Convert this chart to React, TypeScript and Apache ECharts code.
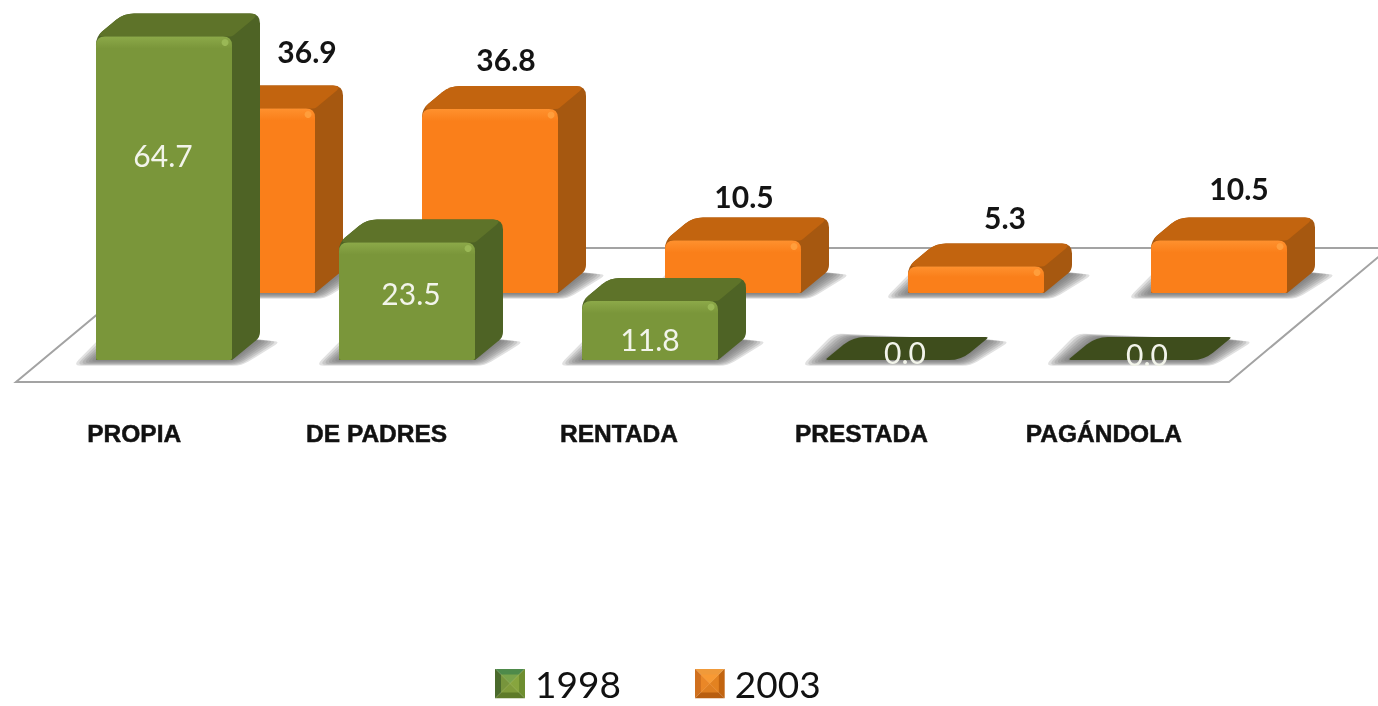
import React, { useEffect, useRef } from "react";
import * as echarts from "echarts";

const categories = ["PROPIA", "DE PADRES", "RENTADA", "PRESTADA", "PAGÁNDOLA"];
const values1998 = [64.7, 23.5, 11.8, 0.0, 0.0];
const values2003 = [36.9, 36.8, 10.5, 5.3, 10.5];

const greenPalette = { front: "#7A963A", light: "#8CA949", top: "#5E7329", side: "#4E6325", flat: "#3E4D1C", hi: "#9AB856" };
const orangePalette = { front: "#FA7F1A", light: "#FF912E", top: "#C2640F", side: "#A65810", flat: "#A65810", hi: "#FF9E3C" };

const DEPTH_X = 28;
const DEPTH_Y = -23;
const LABEL_FONT = "Lato, sans-serif";

// label nudges relative to the bar they annotate
const inNudge = [[-1, -43], [4, -8], [0, 8], [12, -8], [11, -6]];
const outNudge = [[60, -35], [16, -27], [11, -22], [29, -27], [20, -30]];

type P = [number, number];
function roundPoly(pts: P[], radii: number[]): string {
  const n = pts.length;
  let d = "";
  for (let i = 0; i < n; i++) {
    const p = pts[i];
    const a = pts[(i + n - 1) % n];
    const b = pts[(i + 1) % n];
    const r = radii[i];
    const la = Math.hypot(a[0] - p[0], a[1] - p[1]) || 1;
    const lb = Math.hypot(b[0] - p[0], b[1] - p[1]) || 1;
    const ra = Math.min(r, la / 2);
    const rb = Math.min(r, lb / 2);
    const s: P = [p[0] + ((a[0] - p[0]) * ra) / la, p[1] + ((a[1] - p[1]) * ra) / la];
    const e: P = [p[0] + ((b[0] - p[0]) * rb) / lb, p[1] + ((b[1] - p[1]) * rb) / lb];
    d += (i === 0 ? "M" : "L") + s[0].toFixed(1) + " " + s[1].toFixed(1);
    d += "Q" + p[0].toFixed(1) + " " + p[1].toFixed(1) + " " + e[0].toFixed(1) + " " + e[1].toFixed(1);
  }
  return d + "Z";
}

function pathEl(d: string, style: any) {
  return { type: "path", shape: { pathData: d }, style };
}

function makeRender(pal: typeof greenPalette, inside: boolean) {
  return (_params: any, api: any) => {
    const i = api.value(0);
    const v = api.value(1);
    const top = api.coord([i, v]);
    const base = api.coord([i, 0]);
    const w = api.size([1, 0])[0] * 0.56;
    const x = base[0] - w / 2;
    const yb = base[1];
    const yt = top[1];
    const h = yb - yt;
    const children: any[] = [];
    // soft ground shadow: stacked translucent layers that widen outward
    for (let k = 6; k >= 0; k--) {
      const g = k * 3.2;
      const shadow: P[] = [
        [x - 4 - g, yb + 1 + k * 0.8],
        [x + w + g * 0.5, yb + 1 + k * 0.8],
        [x + w + DEPTH_X + 2 + g, yb + DEPTH_Y + 2 + k * 0.4],
        [x + DEPTH_X - g, yb + DEPTH_Y - k * 0.6],
      ];
      children.push(
        pathEl(roundPoly(shadow, [8, 8, 8, 8]), { fill: "rgba(105,105,105,0.2)" })
      );
    }
    const ftl: P = [x, yt];
    const ftr: P = [x + w, yt];
    const btr: P = [x + w + DEPTH_X, yt + DEPTH_Y];
    const btl: P = [x + DEPTH_X, yt + DEPTH_Y];
    if (h < 1) {
      children.push(pathEl(roundPoly([ftl, ftr, btr, btl], [3, 12, 3, 12]), { fill: pal.flat }));
    } else {
      const bandFrac = Math.min(0.4, 12 / h);
      children.push(
        pathEl(
          roundPoly(
            [ftl, btl, btr, [btr[0], yb + DEPTH_Y], [x + w, yb], [x, yb]],
            [8, 10, 10, 5, 1, 1]
          ),
          { fill: pal.side }
        )
      );
      children.push(
        pathEl(roundPoly([ftl, btl, btr, ftr], [8, 10, 10, 2]), { fill: pal.top })
      );
      children.push(
        pathEl(roundPoly([[x, yt], [x + w, yt], [x + w, yb], [x, yb]], [9, 9, 2, 2]), {
          fill: {
            type: "linear",
            x: 0,
            y: 0,
            x2: 0,
            y2: 1,
            colorStops: [
              { offset: 0, color: pal.light },
              { offset: bandFrac, color: pal.front },
              { offset: 1, color: pal.front },
            ],
          },
        })
      );
      children.push({
        type: "circle",
        shape: { cx: x + w - 7, cy: yt + 6, r: 3.5 },
        style: { fill: pal.hi },
      });
    }
    const nudge = (inside ? inNudge : outNudge)[i];
    const lx = base[0] + nudge[0];
    const ly = inside ? (h < 1 ? yb + nudge[1] : yt + h / 2 + nudge[1]) : yt + DEPTH_Y + nudge[1];
    children.push({
      type: "text",
      z2: 10,
      style: {
        text: v.toFixed(1),
        x: lx,
        y: ly,
        align: "center",
        verticalAlign: "middle",
        font: inside ? `400 30px ${LABEL_FONT}` : `bold 30px ${LABEL_FONT}`,
        fill: inside ? "#F2F4EA" : "#141414",
      },
    });
    return { type: "group", children };
  };
}

function legendIcon(top: string, left: string, right: string, bottom: string, mid: string) {
  const svg =
    `<svg xmlns="http://www.w3.org/2000/svg" width="30" height="30">` +
    `<polygon points="0,0 30,0 15,15" fill="${top}"/>` +
    `<polygon points="0,0 0,30 15,15" fill="${left}"/>` +
    `<polygon points="30,0 30,30 15,15" fill="${right}"/>` +
    `<polygon points="0,30 30,30 15,15" fill="${bottom}"/>` +
    `<polygon points="6,6 24,6 24,24 6,24" fill="${mid}" fill-opacity="0.55"/>` +
    `</svg>`;
  return "image://data:image/svg+xml," + encodeURIComponent(svg);
}

const floor: number[][] = [
  [16, 382],
  [1229, 382],
  [1389, 248],
  [177, 248],
];

export default function App() {
  const ref = useRef<HTMLDivElement>(null);
  useEffect(() => {
    const chart = echarts.init(ref.current!, undefined, { renderer: "svg" });
    const hiddenAxis = { show: false };
    chart.setOption({
      animation: false,
      backgroundColor: "#ffffff",
      graphic: [
        {
          type: "polygon",
          z: -10,
          shape: { points: floor },
          style: { fill: "#ffffff", stroke: "#a3a3a3", lineWidth: 2 },
        },
      ],
      legend: {
        left: 490,
        top: 660,
        itemWidth: 30,
        itemHeight: 30,
        itemGap: 74,
        textStyle: {
          fontFamily: LABEL_FONT,
          fontSize: 37,
          lineHeight: 30,
          color: "#111111",
          padding: [0, 0, 0, 5],
        },
        data: [
          { name: "1998", icon: legendIcon("#4E8A4A", "#4A6A2C", "#6E8E30", "#5E7A28", "#9DB84A") },
          { name: "2003", icon: legendIcon("#F09A3A", "#D0701E", "#C2640F", "#B85E10", "#FF9A30") },
        ],
      },
      grid: [
        { left: 42.5, top: 10, width: 1215, height: 350 },
        { left: 125.5, top: 43, width: 1215, height: 250 },
        { left: 13, top: 300, width: 1212, height: 110 },
      ],
      xAxis: [
        { type: "category", gridIndex: 0, data: categories, ...hiddenAxis },
        { type: "category", gridIndex: 1, data: categories, ...hiddenAxis },
        {
          type: "category",
          gridIndex: 2,
          data: categories,
          axisLine: { show: false },
          axisTick: { show: false },
          axisLabel: {
            interval: 0,
            margin: 11,
            color: "#111111",
            fontFamily: "'Liberation Sans Narrow', 'Liberation Sans', sans-serif",
            fontWeight: "bold",
            fontSize: 24.5,
            textBorderColor: "#111111",
            textBorderWidth: 0.5,
          },
        },
      ],
      yAxis: [
        { type: "value", gridIndex: 0, min: 0, max: 70, ...hiddenAxis },
        { type: "value", gridIndex: 1, min: 0, max: 50, ...hiddenAxis },
        { type: "value", gridIndex: 2, min: 0, max: 1, ...hiddenAxis },
      ],
      series: [
        {
          name: "2003",
          type: "custom",
          xAxisIndex: 1,
          yAxisIndex: 1,
          z: 2,
          clip: false,
          itemStyle: { color: orangePalette.front },
          encode: { x: 0, y: 1 },
          data: values2003.map((v, i) => [i, v]),
          renderItem: makeRender(orangePalette, false),
        },
        {
          name: "1998",
          type: "custom",
          xAxisIndex: 0,
          yAxisIndex: 0,
          z: 3,
          clip: false,
          itemStyle: { color: greenPalette.front },
          encode: { x: 0, y: 1 },
          data: values1998.map((v, i) => [i, v]),
          renderItem: makeRender(greenPalette, true),
        },
      ],
    });
    return () => chart.dispose();
  }, []);
  return (
    <div
      ref={ref}
      style={{ position: "absolute", left: 0, top: 0, width: 1378, height: 706, filter: "blur(0.6px)" }}
    />
  );
}
